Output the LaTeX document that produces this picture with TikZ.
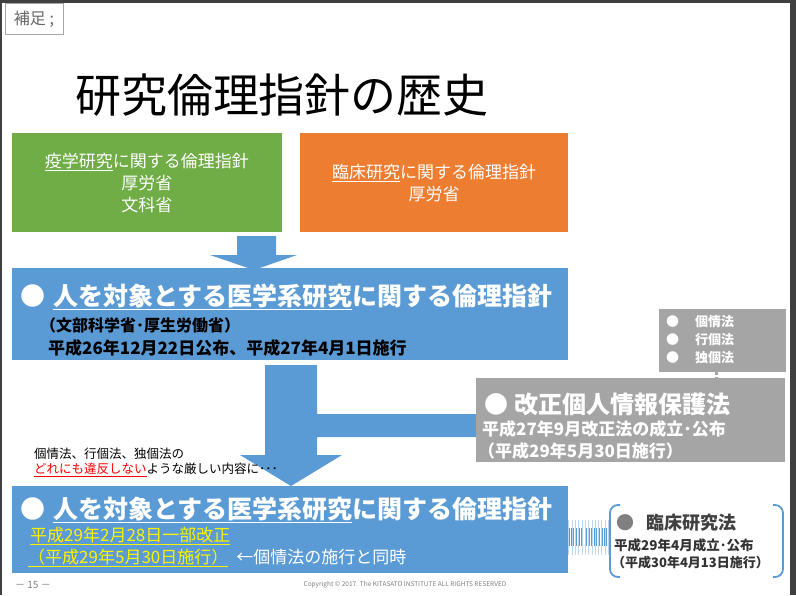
\documentclass[tikz,border=0pt]{standalone}
\usepackage{fontspec}
\setmainfont{Noto Sans CJK JP}
\usepackage{xcolor}
\definecolor{gr}{HTML}{70AD47}
\definecolor{og}{HTML}{ED7D31}
\definecolor{bl}{HTML}{5B9BD5}
\definecolor{gy}{HTML}{A5A5A5}
\definecolor{fr}{HTML}{404040}
\begin{document}
\begin{tikzpicture}[x=1pt,y=-1pt,
  txt/.style={inner sep=0pt,anchor=west,text=white}]
\useasboundingbox (0,0) rectangle (796,595);
\fill[white] (0,0) rectangle (796,595);
\fill[fr] (0,0) rectangle (796,3);
\fill[fr] (790,0) rectangle (796,595);
\fill[fr] (0,0) rectangle (2,595);
% note box
\node[draw=gray!70,line width=0.6pt,minimum width=58pt,minimum height=31pt,inner sep=0pt,text=gray!80!black,font=\fontsize{16}{16}\selectfont] (hosoku) at (34,19) {補足 ;};
\node[font=\fontsize{46}{46}\selectfont,inner sep=0pt] (title) at (282,95) {研究倫理指針の歴史};
% top boxes
\fill[gr] (12,133) rectangle (282,232);
\fill[og] (300,133) rectangle (568,232);
\node[text=white,align=center,font=\fontsize{17}{22}\selectfont] (eki) at (147,183) {\underline{疫学研究}に関する倫理指針\\厚労省\\文科省};
\node[text=white,align=center,font=\fontsize{17}{22}\selectfont] (rin) at (434,183) {\underline{臨床研究}に関する倫理指針\\厚労省};
% arrow 1
\fill[bl] (237,236) -- (276,236) -- (276,255) -- (297,255) -- (254,270) -- (210,255) -- (237,255) -- cycle;
% main box1
\fill[bl] (12,268) rectangle (568,360);
\node[txt,font=\fontsize{25}{25}\selectfont\bfseries] (m1) at (20,297) {●\hspace{8pt}\underline{人を対象とする医学系研究}に関する倫理指針};
\node[txt,font=\fontsize{16}{16}\selectfont\bfseries,text=black] (m1a) at (40,325) {（文部科学省･厚生労働省）};
\node[txt,font=\fontsize{17}{17}\selectfont\bfseries,text=black] (m1b) at (48,348) {平成26年12月22日公布、平成27年4月1日施行};
% arrow 2
\fill[bl] (265,365) -- (317,365) -- (317,414) -- (480,414) -- (480,437) -- (317,437) -- (317,455) -- (342,455) -- (291,486) -- (240,455) -- (265,455) -- cycle;
% gray box
\fill[gy] (476,378) rectangle (785,462);
\node[txt,font=\fontsize{24}{24}\selectfont\bfseries] (kj) at (484,404) {●\hspace{6pt}改正個人情報保護法};
\node[txt,font=\fontsize{17}{17}\selectfont\bfseries] (kj1) at (482,429) {平成27年9月改正法の成立･公布};
\node[txt,font=\fontsize{17}{17}\selectfont\bfseries] (kj2) at (478,451) {（平成29年5月30日施行）};
% small gray box
\fill[gy] (659,309) rectangle (786,372);
\node[txt,font=\fontsize{13}{18}\selectfont\bfseries,align=left] (three) at (666,340) {●\hspace{16pt}個情法\\●\hspace{16pt}行個法\\●\hspace{16pt}独個法};
\draw[gy,line width=3pt,dotted] (716,372) -- (716,378);
% note
\node[txt,text=black,font=\fontsize{12.5}{12.5}\selectfont,align=left] (note) at (34,462) {個情法、行個法、独個法の\\[3pt]{\color{red}\underline{どれにも違反しない}}ような厳しい内容に･･･};
% main box2
\fill[bl] (12,486) rectangle (568,573);
\node[txt,font=\fontsize{25}{25}\selectfont\bfseries] (m2) at (20,510) {●\hspace{8pt}\underline{人を対象とする医学系研究}に関する倫理指針};
\node[txt,font=\fontsize{17}{17}\selectfont,text=yellow] (m2a) at (30,536) {\underline{平成29年2月28日一部改正}};
\node[txt,font=\fontsize{17}{17}\selectfont] (m2b) at (28,558) {{\color{yellow}\underline{（平成29年5月30日施行）}}\hspace{8pt}←個情法の施行と同時};
% striped connector
\foreach \i in {0,...,12} {\fill[bl] (568+\i*3.3,528) rectangle (568+\i*3.3+2.2,546);}
\foreach \i in {0,...,12} {\draw[bl!40,line width=0.4pt] (568.6+\i*3.3,520) -- (568.6+\i*3.3,555);}
% bracket box
\draw[bl,line width=1.8pt,rounded corners=8pt] (620,505) -- (610,505) -- (610,577) -- (620,577);
\draw[bl,line width=1.8pt,rounded corners=8pt] (773,505) -- (783,505) -- (783,577) -- (773,577);
\node[txt,text=black!75,font=\fontsize{18}{18}\selectfont\bfseries] (rk) at (616,523) {{\color{gray}●}\hspace{12pt}臨床研究法};
\node[txt,text=black!80,font=\fontsize{13.5}{13.5}\selectfont\bfseries] (rk1) at (614,545) {平成29年4月成立･公布};
\node[txt,text=black!80,font=\fontsize{13}{13}\selectfont\bfseries] (rk2) at (612,563) {（平成30年4月13日施行）};
% footer
\node[txt,text=gray,font=\fontsize{10}{10}\selectfont] (pg) at (15,585) {－ 15 －};
\node[inner sep=0pt,text=gray,font=\fontsize{6.5}{6.5}\selectfont] (cp) at (405,585) {Copyright © 2017. The KITASATO INSTITUTE ALL RIGHTS RESERVED};
\end{tikzpicture}
\end{document}
